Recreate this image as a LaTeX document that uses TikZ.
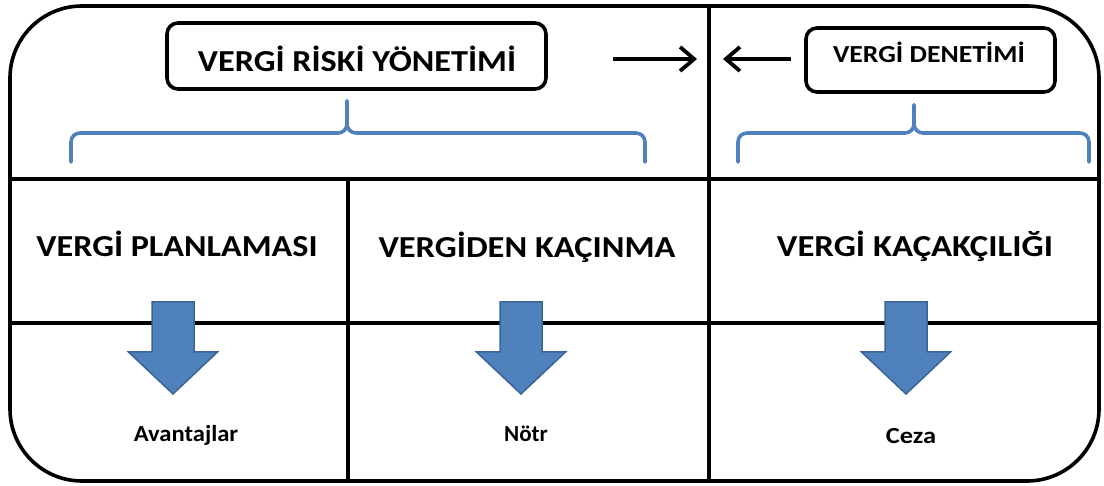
\documentclass[tikz,border=0pt]{standalone}
\usepackage{fontspec}
\setmainfont{Carlito}
\usetikzlibrary{arrows.meta}
\definecolor{office}{HTML}{4F81BD}
\definecolor{officedark}{HTML}{3B6496}
% horizontally widened text
\newcommand{\wide}[2]{\scalebox{#1}[1]{#2}}

\begin{document}
\begin{tikzpicture}[x=1pt,y=-1pt,
  frameline/.style={line width=3.6pt, black},
  titlebox/.style={draw, line width=3.6pt, rounded corners=11pt, inner sep=0pt},
  bigtitle/.style={font=\bfseries\fontsize{30.5}{32}\selectfont, inner sep=0pt, anchor=base},
  smalltitle/.style={font=\bfseries\fontsize{24.5}{26}\selectfont, inner sep=0pt, anchor=base},
  result/.style={font=\bfseries\fontsize{23}{25}\selectfont, inner sep=0pt, anchor=base},
  bracket/.style={draw=office, line width=3.6pt, rounded corners=9pt, line cap=round},
  pointer/.style={line width=3.8pt, -{Straight Barb[length=14pt,width=24pt,line width=3.8pt]}},
  downarr/.pic={\draw[fill=office, draw=officedark, line width=1.5pt, line join=miter]
      (-21,0) -- (21,0) -- (21,50) -- (44.5,50) -- (0,92) -- (-44.5,50) -- (-21,50) -- cycle;}
]
\useasboundingbox (0,0) rectangle (1104,486);

% outer frame and grid
\draw[frameline, rounded corners=72pt] (10,6) rectangle (1099,481);
\draw[frameline] (10,179) -- (1099,179);
\draw[frameline] (10,323) -- (1099,323);
\draw[frameline] (709,6) -- (709,481);
\draw[frameline] (348,179) -- (348,481);

% top boxes
\node[titlebox, minimum width=379pt, minimum height=66pt] (rym) at (356.5,56) {};
\node[bigtitle] (rymtext) at (357,72) {\wide{1.12}{VERGİ RİSKİ YÖNETİMİ}};
\node[titlebox, minimum width=249pt, minimum height=64pt] (den) at (930.5,60) {};
\node[smalltitle] (dentext) at (929,63) {\wide{1.13}{VERGİ DENETİMİ}};

% pointers towards the divider
\coordinate (pstart) at (613,59);
\coordinate (pleft) at (697,59);
\coordinate (pright) at (723,59);
\draw[pointer] (pstart) -- (pleft);
\draw[pointer] ([xshift=-13pt]den.west |- pright) -- (pright);

% brackets
\draw[bracket] (71,162) -- (71,133) -- (347,133) -- (347,101);
\draw[bracket] (645,162) -- (645,133) -- (347,133) -- (347,101);
\draw[bracket] (738,162) -- (738,133) -- (914,133) -- (914,105);
\draw[bracket] (1089,162) -- (1089,133) -- (914,133) -- (914,105);

% column headings
\node[bigtitle] (plan) at (177,257) {\wide{1.12}{VERGİ PLANLAMASI}};
\node[bigtitle] (kac) at (527,258) {\wide{1.13}{VERGİDEN KAÇINMA}};
\node[bigtitle] (kacak) at (915,257) {\wide{1.14}{VERGİ KAÇAKÇILIĞI}};

% outcome arrows
\pic at (173,302) {downarr};
\pic at (521,302) {downarr};
\pic at (906,302) {downarr};

% outcomes
\node[result] (avt) at (186,442) {\wide{1.07}{Avantajlar}};
\node[result] (ntr) at (526,442) {Nötr};
\node[result] (cez) at (911,444) {\wide{1.15}{Ceza}};
\end{tikzpicture}
\end{document}
